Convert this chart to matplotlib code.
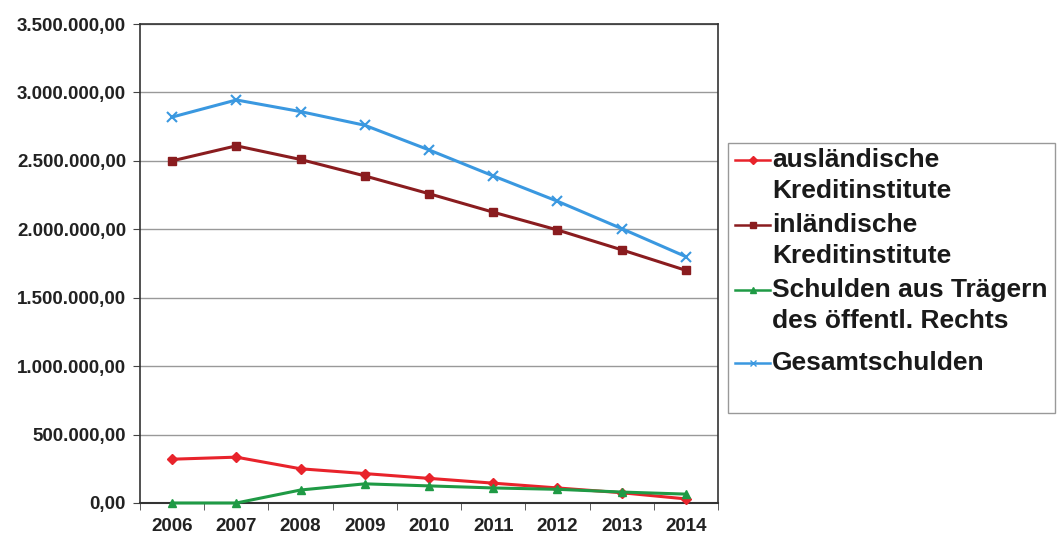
import matplotlib.pyplot as plt
from matplotlib.ticker import FuncFormatter, MultipleLocator, FixedLocator
from matplotlib.patches import Rectangle
from matplotlib.lines import Line2D

plt.rcParams['font.family'] = ['Liberation Sans', 'DejaVu Sans']

# Schuldenentwicklung 2006-2014
jahre = ['2006', '2007', '2008', '2009', '2010', '2011', '2012', '2013', '2014']
auslaendisch = [320000, 335000, 250000, 215000, 180000, 145000, 110000, 75000, 30000]
inlaendisch = [2500000, 2610000, 2510000, 2390000, 2260000, 2125000, 1995000, 1850000, 1700000]
oeffentlich = [0, 0, 95000, 140000, 125000, 110000, 100000, 80000, 65000]
gesamt = [2820000, 2945000, 2860000, 2760000, 2580000, 2390000, 2205000, 2005000, 1800000]

labels = ['ausländische\nKreditinstitute',
          'inländische\nKreditinstitute',
          'Schulden aus Trägern\ndes öffentl. Rechts',
          'Gesamtschulden']


def de_format(v, pos):
    s = f'{v:,.2f}'
    return s.replace(',', 'X').replace('.', ',').replace('X', '.')


W, H = 1059, 536
fig = plt.figure(figsize=(W / 100, H / 100), dpi=100)
ax = fig.add_axes([140 / W, 1 - 503 / H, 578 / W, 479 / H])

x = range(len(jahre))
stile = [dict(color='#e8232b', marker='D', ms=5),
         dict(color='#8a1c1f', marker='s', ms=6),
         dict(color='#1f9a45', marker='^', ms=6),
         dict(color='#3a98e0', marker='x', ms=7, mew=1.5)]
for werte, st in zip([auslaendisch, inlaendisch, oeffentlich, gesamt], stile):
    ax.plot(x, werte, lw=2.2, clip_on=False, zorder=3, **st)

ax.set_xlim(-0.5, len(jahre) - 0.5)
ax.set_ylim(0, 3500000)
ax.yaxis.set_major_locator(MultipleLocator(500000))
ax.yaxis.set_major_formatter(FuncFormatter(de_format))
ax.set_xticks(list(x))
ax.set_xticklabels(jahre)
ax.xaxis.set_minor_locator(FixedLocator([i - 0.5 for i in range(len(jahre) + 1)]))
ax.tick_params(axis='x', which='major', length=0, pad=11)
ax.tick_params(axis='x', which='minor', length=5, direction='out', color='#444444')
ax.tick_params(axis='y', length=5, direction='out', pad=5, color='#444444')
for lbl in ax.get_xticklabels() + ax.get_yticklabels():
    lbl.set_fontsize(13.5)
    lbl.set_fontweight('bold')
    lbl.set_color('#222222')

ax.grid(axis='y', color='#999999', lw=1)
ax.set_axisbelow(True)
for sp in ax.spines.values():
    sp.set_color('#333333')
    sp.set_linewidth(1.2)
ax.spines['bottom'].set_linewidth(1.5)

# Legende mit Rahmen, Symbol jeweils auf Höhe der ersten Zeile
fig.patches.append(Rectangle((728 / W, 1 - 413 / H), 327 / W, 270 / H,
                             transform=fig.transFigure, fill=False,
                             edgecolor='#999999', lw=1))
zeilen_y = [160, 225, 290, 363]
for lab, st, yy in zip(labels, stile, zeilen_y):
    hs = dict(st, ms=4, mew=1)
    fig.add_artist(Line2D([735 / W, 752.5 / W, 770 / W], [1 - yy / H] * 3, lw=1.8,
                          transform=fig.transFigure, markevery=[1], **hs))
    fig.text(772 / W, 1 - (yy - 12) / H, lab, fontsize=19, fontweight='bold',
             color='#1a1a1a', va='top', ha='left', linespacing=1.38)

fig.savefig('out.png', dpi=100)
